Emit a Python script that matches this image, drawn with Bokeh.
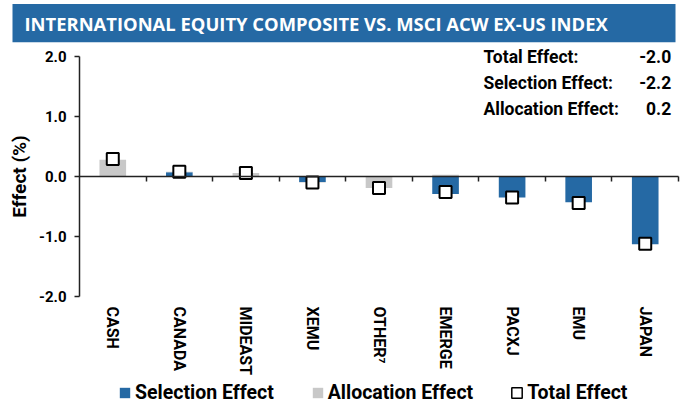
from bokeh.plotting import figure
from bokeh.models import (Range1d, FixedTicker, LinearAxis, BoxAnnotation,
                          ColumnDataSource, Label, Legend, LegendItem, NumeralTickFormatter)
from bokeh.embed import file_html
from bokeh.resources import INLINE

# ---------------- data ----------------
categories = ["CASH", "CANADA", "MIDEAST", "XEMU", "OTHER\u2077", "EMERGE", "PACXJ", "EMU", "JAPAN"]
selection_effect = [0.0, 0.07, 0.0, -0.09, 0.0, -0.29, -0.35, -0.43, -1.13]
allocation_effect = [0.28, 0.01, 0.06, -0.01, -0.19, 0.03, 0.0, 0.0, 0.0]
total_effect = [0.29, 0.08, 0.06, -0.10, -0.19, -0.26, -0.35, -0.44, -1.12]
y_ticks = [-2.0, -1.0, 0.0, 1.0, 2.0]
summary_labels = ["Total Effect:", "Selection Effect:", "Allocation Effect:"]
summary_values = ["-2.0", "-2.2", "0.2"]
title_text = "INTERNATIONAL EQUITY COMPOSITE VS. MSCI ACW EX-US INDEX"

BLUE = "#2569A4"
GREY = "#C8C8C8"
AXIS = "#222222"
FONT = "Roboto"

n = len(categories)
xpos = [i + 0.5 for i in range(n)]          # category centres on a numeric axis
bounds = [i + 1 for i in range(n)]          # category boundaries (tick marks)

# ---------------- layout geometry (whole canvas is the frame) ----------------
W, H = 686, 404
AX_LEFT = 79                 # px from canvas left to the value axis
AX_RIGHT = 678               # px from canvas left to the end of the category axis
PX_X = (AX_RIGHT - AX_LEFT) / n   # px per category
PX_Y = 60                    # px per 1.0 effect
TOP_2 = 56                   # px from canvas top to the 2.0 level
x_start = -AX_LEFT / PX_X
x_end = (W - AX_LEFT) / PX_X
y_top = 2 + TOP_2 / PX_Y
y_bot = y_top - H / PX_Y

def px_x(px):   # canvas px -> data x
    return (px - AX_LEFT) / PX_X

def px_y(py):   # canvas px (from top) -> data y
    return y_top - py / PX_Y

# stacking (positive up, negative down)
sel_bottom, sel_top, alloc_bottom, alloc_top = [], [], [], []
for s, a in zip(selection_effect, allocation_effect):
    sel_bottom.append(0.0)
    sel_top.append(s)
    base = s if s * a > 0 else 0.0
    alloc_bottom.append(base)
    alloc_top.append(base + a)

src = ColumnDataSource(dict(x=xpos, cat=categories, sel_b=sel_bottom, sel_t=sel_top,
                            al_b=alloc_bottom, al_t=alloc_top, total=total_effect))

# ---------------- figure ----------------
p = figure(width=W, height=H, x_range=Range1d(x_start, x_end), y_range=Range1d(y_bot, y_top),
           output_backend="svg", toolbar_location=None,
           x_axis_location=None, y_axis_location=None,
           min_border=0, min_border_left=0, min_border_right=0, min_border_top=0,
           min_border_bottom=0, outline_line_color=None)
p.grid.visible = False

# title bar
p.add_layout(BoxAnnotation(left=px_x(12), right=px_x(675), top=px_y(3.5), bottom=px_y(41.7),
                           fill_color=BLUE, fill_alpha=1.0, line_color=None))
p.add_layout(Label(x=px_x(24), y=px_y(22.5), text=title_text,
                   text_color="white", text_font="Open Sans", text_font_style="bold",
                   text_font_size="18.4px", text_baseline="middle"))

r_sel = p.vbar(x="x", bottom="sel_b", top="sel_t", width=0.4, fill_color=BLUE,
               line_color=None, source=src)
r_al = p.vbar(x="x", bottom="al_b", top="al_t", width=0.4, fill_color=GREY,
              line_color=None, source=src)

# zero axis with category-boundary ticks
zero_axis = LinearAxis(fixed_location=0, bounds=(0, n),
                       ticker=FixedTicker(ticks=bounds),
                       major_label_overrides={b: "" for b in bounds},
                       major_tick_in=0, major_tick_out=5, minor_tick_line_color=None,
                       axis_line_width=1.5, axis_line_color=AXIS,
                       major_tick_line_width=1.5, major_tick_line_color=AXIS)
p.add_layout(zero_axis, "below")

r_tot = p.scatter(x="x", y="total", marker="square", size=12, fill_color="white",
                  line_color="black", line_width=2, source=src)

# category labels along the bottom of the value range
cat_axis = LinearAxis(fixed_location=y_ticks[0], bounds=(0, n),
                      ticker=FixedTicker(ticks=xpos),
                      major_label_overrides={x: c for x, c in zip(xpos, categories)},
                      axis_line_color=None, major_tick_line_color=None,
                      minor_tick_line_color=None, major_label_orientation="vertical",
                      major_label_standoff=4, major_label_text_font=FONT,
                      major_label_text_font_style="bold", major_label_text_font_size="16px",
                      major_label_text_color="black")
p.add_layout(cat_axis, "below")

# value axis
ya = LinearAxis(fixed_location=0, bounds=(y_ticks[0], y_ticks[-1]),
                ticker=FixedTicker(ticks=y_ticks),
                formatter=NumeralTickFormatter(format="0.0"),
                major_tick_in=0, major_tick_out=5, minor_tick_line_color=None,
                axis_line_width=1.5, axis_line_color=AXIS,
                major_tick_line_width=1.5, major_tick_line_color=AXIS,
                major_label_standoff=8, major_label_text_font=FONT,
                major_label_text_font_style="bold", major_label_text_font_size="15px",
                major_label_text_color="black",
                axis_label="Effect (%)", axis_label_standoff=5, axis_label_text_font=FONT,
                axis_label_text_font_style="bold", axis_label_text_font_size="19px",
                axis_label_text_color="black")
p.add_layout(ya, "left")

# summary annotation
label_y = [2.0, 1.56, 1.13]
for lab, val, yy in zip(summary_labels, summary_values, label_y):
    p.add_layout(Label(x=6.07, y=yy, text=lab, text_font=FONT,
                       text_font_style="bold", text_font_size="17.5px", text_color="black",
                       text_baseline="middle", text_align="left"))
    p.add_layout(Label(x=8.89, y=yy, text=val, text_font=FONT,
                       text_font_style="bold", text_font_size="17.5px", text_color="black",
                       text_baseline="middle", text_align="right"))

# legend (hollow-square swatch from a legend-only renderer with no visible geometry)
nan = float("nan")
legend_tot = p.quad(left=[nan], right=[nan], top=[nan], bottom=[nan], fill_color="white",
                    line_color="black", line_width=1.5)
legend = Legend(items=[LegendItem(label="Selection Effect", renderers=[r_sel]),
                       LegendItem(label="Allocation Effect", renderers=[r_al]),
                       LegendItem(label="Total Effect", renderers=[legend_tot])],
                orientation="horizontal", location=(118, 0),
                label_text_font=FONT, label_text_font_style="bold",
                label_text_font_size="19.5px", label_text_color="black",
                glyph_width=13, glyph_height=13, label_standoff=4, spacing=37,
                padding=0, margin=0, border_line_color=None, background_fill_alpha=0)
p.add_layout(legend)

open("out.html", "w").write(file_html(p, INLINE))
